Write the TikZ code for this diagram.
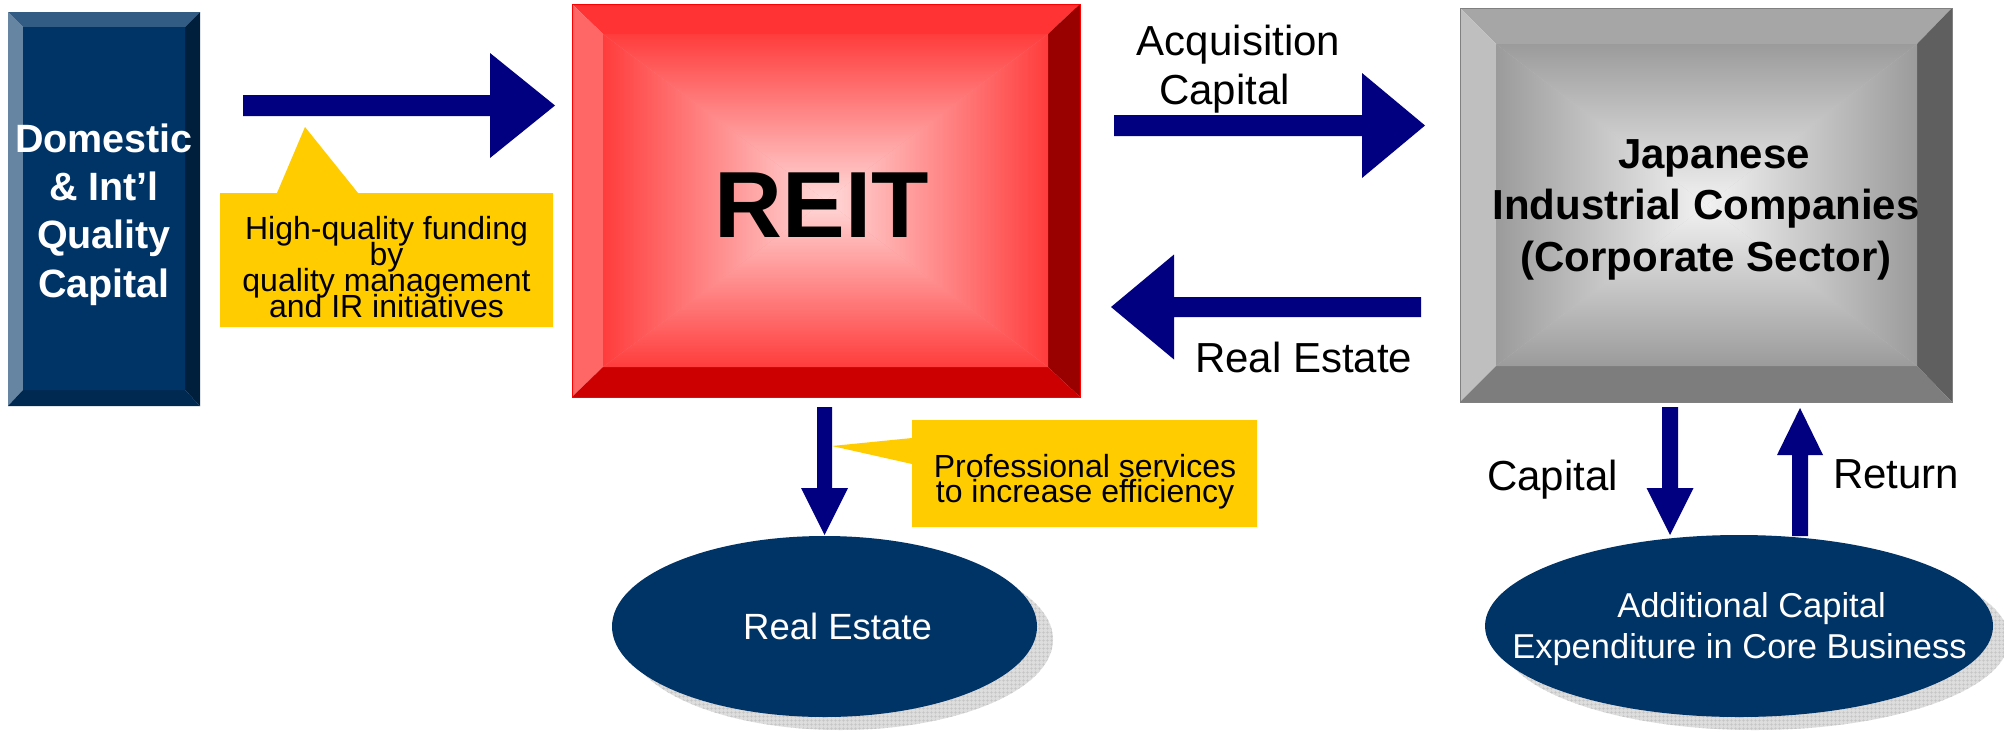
\documentclass[tikz,border=0pt]{standalone}
\usepackage{fontspec}
\setmainfont{Liberation Sans}
\usetikzlibrary{calc,shapes.geometric,patterns.meta}
\newcommand\tightlines{\lineskiplimit=-100pt\relax\lineskip=0pt\relax}
\definecolor{arrowblue}{RGB}{0,0,128}
\definecolor{ellblue}{RGB}{0,51,102}
\definecolor{callyellow}{RGB}{255,204,0}
\definecolor{domtop}{RGB}{51,92,133}
\definecolor{domleft}{RGB}{102,133,163}
\definecolor{domright}{RGB}{0,31,61}
\definecolor{dombot}{RGB}{0,41,82}
\definecolor{reittop}{RGB}{255,51,51}
\definecolor{reitleft}{RGB}{255,102,102}
\definecolor{reitright}{RGB}{153,0,0}
\definecolor{reitbot}{RGB}{204,0,0}
\definecolor{reitedge}{RGB}{255,60,60}
\definecolor{reitcenter}{RGB}{255,217,217}
\definecolor{jptop}{RGB}{166,166,166}
\definecolor{jpleft}{RGB}{191,191,191}
\definecolor{jpright}{RGB}{95,95,95}
\definecolor{jpbot}{RGB}{125,125,125}
\definecolor{jpedge}{RGB}{155,155,155}
\definecolor{jpcenter}{RGB}{242,242,242}
\definecolor{shadowbase}{RGB}{221,221,221}
\definecolor{shadowline}{RGB}{196,196,196}

% bevelled box: #1 prefix of coordinates (A,B outer, a,b inner), #2 top, #3 left, #4 right, #5 bottom, #6 edge, #7 center
\newcommand\bevelbox[7]{%
  \fill[#2] (#1A) -- (#1B |- #1A) -- (#1b |- #1a) -- (#1a) -- cycle;
  \fill[#3] (#1A) -- (#1a) -- (#1a |- #1b) -- (#1A |- #1B) -- cycle;
  \fill[#4] (#1B |- #1A) -- (#1B) -- (#1b) -- (#1b |- #1a) -- cycle;
  \fill[#5] (#1A |- #1B) -- (#1B) -- (#1b) -- (#1a |- #1b) -- cycle;
  \coordinate (#1c) at ($(#1a)!0.5!(#1b)$);
  \fill[#6!50!#7] (#1a) rectangle (#1b);
  \shade[top color=#6, bottom color=#7] (#1a) -- (#1b |- #1a) -- (#1c) -- cycle;
  \shade[top color=#7, bottom color=#6] (#1a |- #1b) -- (#1b) -- (#1c) -- cycle;
  \shade[left color=#6, right color=#7] (#1a) -- (#1c) -- (#1a |- #1b) -- cycle;
  \shade[left color=#7, right color=#6] (#1b |- #1a) -- (#1c) -- (#1b) -- cycle;
}
% horizontal block arrow: #1 start, #2 head base, #3 tip, #4 shaft half width, #5 head half width
\newcommand\blockarrowH[5]{%
  \fill[arrowblue] ($(#1)+(0,-#4)$) -- ($(#2)+(0,-#4)$) -- ($(#2)+(0,-#5)$) -- (#3)
    -- ($(#2)+(0,#5)$) -- ($(#2)+(0,#4)$) -- ($(#1)+(0,#4)$) -- cycle;}
% vertical block arrow
\newcommand\blockarrowV[5]{%
  \fill[arrowblue] ($(#1)+(-#4,0)$) -- ($(#2)+(-#4,0)$) -- ($(#2)+(-#5,0)$) -- (#3)
    -- ($(#2)+(#5,0)$) -- ($(#2)+(#4,0)$) -- ($(#1)+(#4,0)$) -- cycle;}

\begin{document}
\begin{tikzpicture}[x=1pt,y=-1pt,
  lbl/.style={anchor=base west, inner sep=0pt, font=\fontsize{42}{49}\selectfont},
  calltext/.style={anchor=base, inner sep=0pt, align=center,
    font={\fontsize{32}{26}\selectfont\tightlines}},
  ellnode/.style={ellipse, fill=ellblue, inner sep=0pt, outer sep=0pt},
  shadownode/.style={ellipse, inner sep=0pt, outer sep=0pt, fill=shadowbase},
]
\fill[white] (0,0) rectangle (2004,731);
\useasboundingbox (0,0) rectangle (2004,731);

% ---------- Domestic box ----------
\coordinate (dA) at (8,12);   \coordinate (dB) at (200,406);
\coordinate (da) at (23,27);  \coordinate (db) at (185,390);
\bevelbox{d}{domtop}{domleft}{domright}{dombot}{ellblue}{ellblue}
% anchor=base of a multi-line node is the baseline of its last line
\node[anchor=base, inner sep=0pt, align=center, text=white,
      font={\fontsize{39.5}{48.3}\selectfont\bfseries\tightlines}] (dom) at (104,297)
  {Domestic\\\& Int’l\\Quality\\Capital};

% ---------- REIT box ----------
\coordinate (rA) at (572,4);   \coordinate (rB) at (1080,397);
\coordinate (ra) at (603,34);  \coordinate (rb) at (1048,367);
\bevelbox{r}{reittop}{reitleft}{reitright}{reitbot}{reitedge}{reitcenter}
\draw[red, line width=0.8pt] (rA) rectangle (rB);
\node[anchor=base, inner sep=0pt, font=\fontsize{94}{94}\selectfont\bfseries] (reit) at (822,237) {REIT};

% ---------- Japanese box ----------
\coordinate (jA) at (1460,8);   \coordinate (jB) at (1952,402);
\coordinate (ja) at (1496,44);  \coordinate (jb) at (1917,366);
\bevelbox{j}{jptop}{jpleft}{jpright}{jpbot}{jpedge}{jpcenter}
\draw[gray, line width=0.8pt] (jA) rectangle (jB);
\node[anchor=base, inner sep=0pt, align=center,
      font={\fontsize{42}{51.5}\selectfont\bfseries\tightlines}] (jp) at (1706,271)
  {\hspace*{16pt}Japanese\\Industrial Companies\hspace*{28pt}\\(Corporate Sector)};

% ---------- arrows between boxes ----------
\coordinate (a1s) at (243,105.5);  \coordinate (a1h) at (490,105.5);  \coordinate (a1t) at (555,105.5);
\blockarrowH{a1s}{a1h}{a1t}{10.5}{52.5}
\coordinate (a2s) at (1114,125.5); \coordinate (a2h) at (1362,125.5); \coordinate (a2t) at (1425,125.5);
\blockarrowH{a2s}{a2h}{a2t}{10.5}{52.5}
\coordinate (a3s) at (1421,307);   \coordinate (a3h) at (1174,307);   \coordinate (a3t) at (1111,307);
\blockarrowH{a3s}{a3h}{a3t}{10}{52.5}

\node[anchor=base, inner sep=0pt, align=center,
      font={\fontsize{42}{49}\selectfont\tightlines}] (acq) at (1238.5,104)
  {Acquisition\\Capital\hspace*{28pt}};
\node[lbl] (relbl) at (1195,372) {Real Estate};

% ---------- callout 1 ----------
\coordinate (c1tip) at (305,127);
\fill[callyellow] (220,193) -- (277,193) -- (c1tip) -- (358,193) -- (553,193) -- (553,327) -- (220,327) -- cycle;
\node[calltext] (c1) at (386.5,317) {High-quality funding\\by\\quality management\\and IR initiatives};

% ---------- shadows and ellipses ----------
\node[shadownode, minimum width=425pt, minimum height=181pt] (res) at (840.5,639.5) {};
\fill[pattern={Hatch[distance=4pt,angle=0,line width=0.5pt]}, pattern color=shadowline]
  (840.5,639.5) ellipse [x radius=212.5, y radius=90.5];
\node[shadownode, minimum width=508pt, minimum height=182pt] (ces) at (1755,639) {};
\fill[pattern={Hatch[distance=4pt,angle=0,line width=0.5pt]}, pattern color=shadowline]
  (1755,639) ellipse [x radius=254, y radius=91];

\node[ellnode, minimum width=425pt, minimum height=181pt] (re) at (824.5,626.5) {};
\node[anchor=base, inner sep=0pt, text=white, font=\fontsize{36.5}{40}\selectfont] (retxt) at (837.5,639) {Real Estate};

\node[ellnode, minimum width=508pt, minimum height=182pt] (ce) at (1739,626) {};
\node[anchor=base, inner sep=0pt, align=center, text=white,
      font={\fontsize{34.5}{41}\selectfont\tightlines}] (cetxt) at (1739.5,658)
  {\hspace*{24pt}Additional Capital\\Expenditure in Core Business};

% ---------- vertical arrows ----------
\coordinate (a4s) at (824.5,407); \coordinate (a4h) at (824.5,488); \coordinate (a4t) at (824.5,535);
\blockarrowV{a4s}{a4h}{a4t}{7.5}{23.5}
\coordinate (a5s) at (1670,407);  \coordinate (a5h) at (1670,488);  \coordinate (a5t) at (1670,535);
\blockarrowV{a5s}{a5h}{a5t}{8}{23.5}
\coordinate (a6s) at (1800,536);  \coordinate (a6h) at (1800,455);  \coordinate (a6t) at (1800,408);
\blockarrowV{a6s}{a6h}{a6t}{8}{23}

\node[lbl] (caplbl) at (1487,490) {Capital};
\node[lbl] (retlbl) at (1833,488) {Return};

% ---------- callout 2 ----------
\coordinate (c2tip) at (832,446);
\fill[callyellow] (912,420) -- (1257,420) -- (1257,527) -- (912,527) -- (912,464) -- (c2tip) -- (912,438) -- cycle;
\node[calltext, font={\fontsize{32}{25}\selectfont\tightlines}] (c2) at (1085,502) {Professional services\\to increase efficiency};
\end{tikzpicture}
\end{document}
